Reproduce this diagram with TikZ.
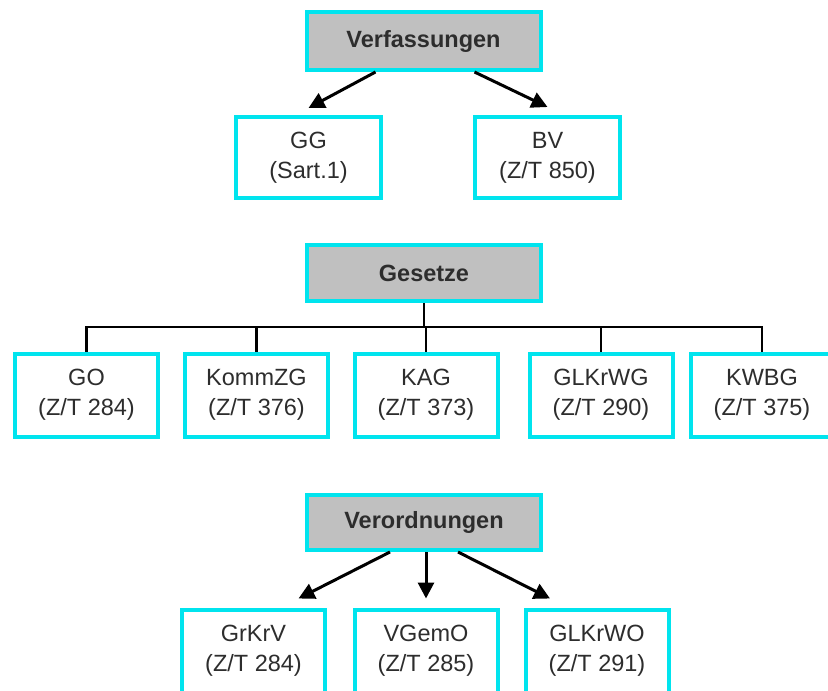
\documentclass[tikz,border=0pt]{standalone}
\usepackage{fontspec}
\setmainfont{Liberation Sans}
\usetikzlibrary{arrows.meta}

\definecolor{boxcyan}{RGB}{0,228,238}
\definecolor{headgray}{RGB}{192,192,192}
\definecolor{txtgray}{RGB}{45,45,45}

\tikzset{
  lawbox/.style={draw=boxcyan, line width=4pt, fill=white, text=txtgray,
    minimum width=143pt, minimum height=83pt, align=center,
    font=\fontsize{23.5}{30}\selectfont},
  headbox/.style={draw=boxcyan, line width=4pt, fill=headgray, text=txtgray,
    minimum width=234pt, minimum height=56pt,
    font=\fontsize{23.5}{30}\selectfont\bfseries},
  arr/.style={line width=3pt, -{Triangle[length=16pt,width=16pt]}},
  conn/.style={line width=2.8pt}
}

\begin{document}
\begin{tikzpicture}[x=1pt, y=-1pt]

    % Fix the page to the size of the picture
    \useasboundingbox (0,0) rectangle (828,691);

    % First level: the constitutions
    \node[headbox, minimum height=58pt] (verf) at (423.5,41) {Verfassungen};
    \node[lawbox, minimum width=145pt, minimum height=81pt] (gg) at (308.5,157.5) {GG\\(Sart.1)};
    \node[lawbox, minimum width=145pt, minimum height=81pt] (bv) at (547.5,157.5) {BV\\(Z/T 850)};

    % Arrows from the header to both boxes
    \draw[arr] ([xshift=-48pt]verf.south) -- ([yshift=7pt]gg.north);
    \draw[arr] ([xshift=51pt]verf.south) -- ([yshift=8pt]bv.north);

    % Second level: the laws
    \node[headbox] (ges) at (424,273) {Gesetze};
    \node[lawbox] (go) at (86.5,395) {GO\\(Z/T 284)};
    \node[lawbox] (kommzg) at (256.5,395) {KommZG\\(Z/T 376)};
    \node[lawbox] (kag) at (426,395) {KAG\\(Z/T 373)};
    \node[lawbox] (glkrwg) at (601,395) {GLKrWG\\(Z/T 290)};
    \node[lawbox] (kwbg) at (762,395) {KWBG\\(Z/T 375)};

    % Tree lines: stem down to the bar, then a drop to every box
    \coordinate (bar) at (424,327);
    \draw[conn] (ges.south) -- (bar);
    \foreach \n in {go,kommzg,kag,glkrwg,kwbg}
        \draw[conn] (\n.north) |- (bar);

    % Third level: the ordinances
    \node[headbox, minimum height=55pt] (verord) at (424,522.5) {Verordnungen};
    \node[lawbox] (grkrv) at (253.5,651) {GrKrV\\(Z/T 284)};
    \node[lawbox] (vgemo) at (426,651) {VGemO\\(Z/T 285)};
    \node[lawbox] (glkrwo) at (597,651) {GLKrWO\\(Z/T 291)};

    % Three arrows fanning out from the header
    \draw[arr] ([xshift=-34pt]verord.south) -- ([xshift=45pt,yshift=9pt]grkrv.north);
    \draw[arr] ([xshift=2pt]verord.south) -- ([yshift=9pt]vgemo.north);
    \draw[arr] ([xshift=34pt]verord.south) -- ([xshift=-47pt,yshift=9pt]glkrwo.north);

\end{tikzpicture}
\end{document}
